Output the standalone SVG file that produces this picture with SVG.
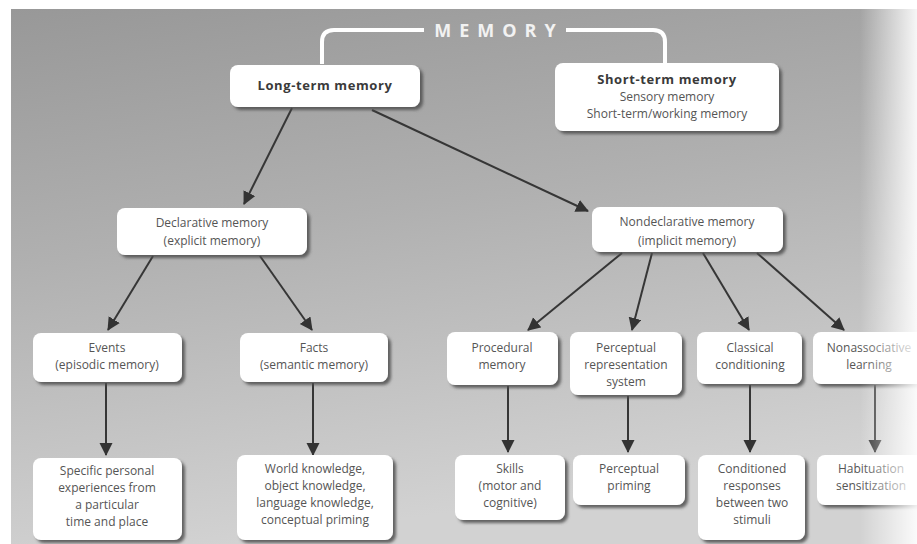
<svg xmlns="http://www.w3.org/2000/svg" width="917" height="544" viewBox="0 0 917 544">
<defs>
<linearGradient id="bg" x1="0" y1="0" x2="0.25" y2="1">
<stop offset="0" stop-color="#989898"/>
<stop offset="0.45" stop-color="#b0b0b0"/>
<stop offset="1" stop-color="#d2d2d2"/>
</linearGradient>
<linearGradient id="fade" x1="0" y1="0" x2="1" y2="0">
<stop offset="0" stop-color="#ffffff" stop-opacity="0"/>
<stop offset="1" stop-color="#ffffff" stop-opacity="0.9"/>
</linearGradient>
<filter id="sh" x="-10%" y="-10%" width="130%" height="140%">
<feDropShadow dx="3" dy="3" stdDeviation="1.5" flood-color="#505050" flood-opacity="0.85"/>
</filter>
<marker id="ah" markerUnits="userSpaceOnUse" markerWidth="14" markerHeight="14" refX="12" refY="6.5" orient="auto">
<path d="M0,0 L13,6.5 L0,13 z" fill="#333333"/>
</marker>
</defs>
<style>
.box{fill:#ffffff;filter:url(#sh)}
.t{font-family:"Open Sans","Noto Sans",sans-serif;font-size:12px;fill:#555555;text-anchor:middle}
.b{font-family:"Open Sans","Noto Sans",sans-serif;font-size:13px;font-weight:bold;fill:#3a3a3a;text-anchor:middle;letter-spacing:0.6px}
.c{stroke:#363636;stroke-width:2;fill:none;marker-end:url(#ah)}
.br{stroke:#ffffff;stroke-width:4;fill:none}
</style>
<rect x="0" y="0" width="917" height="544" fill="#ffffff"/>
<rect x="11" y="9" width="906" height="535" fill="url(#bg)"/>

<g id="title">
<path class="br" d="M322,64 L322,42 Q322,30 334,30 L424,30"/>
<path class="br" d="M566,30 L653,30 Q665,30 665,42 L665,64"/>
<text x="499" y="37" font-family="'Open Sans','Noto Sans',sans-serif" font-size="18" font-weight="bold" fill="#f2f2f2" text-anchor="middle" letter-spacing="8">MEMORY</text>
</g>

<g id="connectors">
<line class="c" x1="292" y1="108" x2="244" y2="204"/>
<line class="c" x1="372" y1="110" x2="588" y2="211"/>
<line class="c" x1="153" y1="256" x2="108" y2="330"/>
<line class="c" x1="260" y1="256" x2="312" y2="330"/>
<line class="c" x1="622" y1="253" x2="528" y2="330"/>
<line class="c" x1="652" y1="253" x2="632" y2="330"/>
<line class="c" x1="703" y1="253" x2="749" y2="330"/>
<line class="c" x1="757" y1="253" x2="844" y2="330"/>
<line class="c" x1="106" y1="383" x2="106" y2="455"/>
<line class="c" x1="313" y1="383" x2="313" y2="455"/>
<line class="c" x1="508" y1="386" x2="508" y2="452"/>
<line class="c" x1="628" y1="396" x2="628" y2="452"/>
<line class="c" x1="750" y1="385" x2="750" y2="452"/>
<line class="c" x1="875" y1="385" x2="875" y2="452"/>
</g>

<g id="long-term">
<rect class="box" x="230" y="65" width="190" height="42" rx="8"/>
<text class="b" x="325" y="90">Long-term memory</text>
</g>
<g id="short-term">
<rect class="box" x="555" y="63" width="224" height="68" rx="8"/>
<text class="b" x="667" y="84">Short-term memory</text>
<text class="t" x="667" y="101">Sensory memory</text>
<text class="t" x="667" y="118">Short-term/working memory</text>
</g>
<g id="declarative">
<rect class="box" x="117" y="208" width="190" height="47" rx="8"/>
<text class="t" x="212" y="227">Declarative memory</text>
<text class="t" x="212" y="245">(explicit memory)</text>
</g>
<g id="nondeclarative">
<rect class="box" x="592" y="207" width="191" height="45" rx="8"/>
<text class="t" x="687" y="226">Nondeclarative memory</text>
<text class="t" x="687" y="245">(implicit memory)</text>
</g>
<g id="events">
<rect class="box" x="33" y="333" width="149" height="49" rx="8"/>
<text class="t" x="107" y="352">Events</text>
<text class="t" x="107" y="369">(episodic memory)</text>
</g>
<g id="facts">
<rect class="box" x="240" y="333" width="148" height="49" rx="8"/>
<text class="t" x="314" y="352">Facts</text>
<text class="t" x="314" y="369">(semantic memory)</text>
</g>
<g id="procedural">
<rect class="box" x="447" y="332" width="111" height="53" rx="8"/>
<text class="t" x="502" y="352">Procedural</text>
<text class="t" x="502" y="369">memory</text>
</g>
<g id="perceptual-rep">
<rect class="box" x="570" y="332" width="112" height="63" rx="8"/>
<text class="t" x="626" y="352">Perceptual</text>
<text class="t" x="626" y="369">representation</text>
<text class="t" x="626" y="386">system</text>
</g>
<g id="classical">
<rect class="box" x="697" y="332" width="105" height="52" rx="8"/>
<text class="t" x="750" y="352">Classical</text>
<text class="t" x="750" y="369">conditioning</text>
</g>
<g id="nonassociative">
<rect class="box" x="813" y="332" width="112" height="52" rx="8"/>
<text class="t" x="869" y="352">Nonassociative</text>
<text class="t" x="869" y="369">learning</text>
</g>
<g id="specific">
<rect class="box" x="33" y="458" width="149" height="82" rx="8"/>
<text class="t" x="107" y="475">Specific personal</text>
<text class="t" x="107" y="492">experiences from</text>
<text class="t" x="107" y="509">a particular</text>
<text class="t" x="107" y="526">time and place</text>
</g>
<g id="world">
<rect class="box" x="237" y="455" width="156" height="85" rx="8"/>
<text class="t" x="315" y="473">World knowledge,</text>
<text class="t" x="315" y="490">object knowledge,</text>
<text class="t" x="315" y="507">language knowledge,</text>
<text class="t" x="315" y="524">conceptual priming</text>
</g>
<g id="skills">
<rect class="box" x="455" y="455" width="110" height="65" rx="8"/>
<text class="t" x="510" y="473">Skills</text>
<text class="t" x="510" y="490">(motor and</text>
<text class="t" x="510" y="507">cognitive)</text>
</g>
<g id="perceptual-priming">
<rect class="box" x="573" y="455" width="112" height="50" rx="8"/>
<text class="t" x="629" y="473">Perceptual</text>
<text class="t" x="629" y="490">priming</text>
</g>
<g id="conditioned">
<rect class="box" x="698" y="455" width="107" height="85" rx="8"/>
<text class="t" x="752" y="473">Conditioned</text>
<text class="t" x="752" y="490">responses</text>
<text class="t" x="752" y="507">between two</text>
<text class="t" x="752" y="524">stimuli</text>
</g>
<g id="habituation">
<rect class="box" x="817" y="455" width="108" height="50" rx="8"/>
<text class="t" x="871" y="473">Habituation</text>
<text class="t" x="871" y="490">sensitization</text>
</g>
<rect x="860" y="9" width="57" height="535" fill="url(#fade)"/>
</svg>
